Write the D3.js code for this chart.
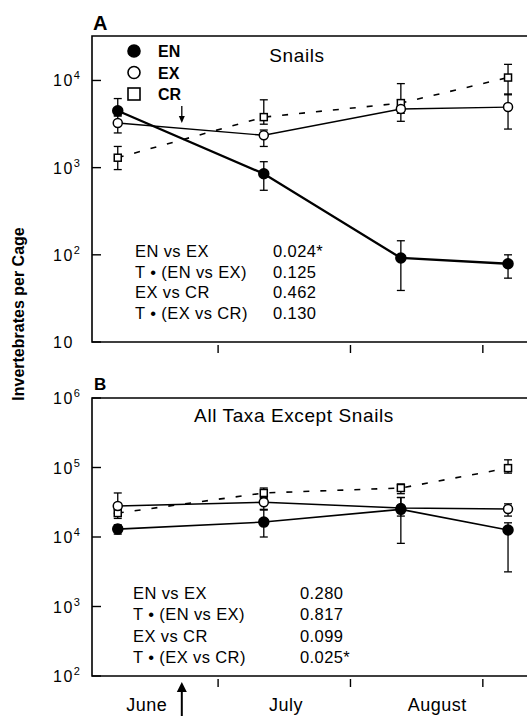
<!DOCTYPE html>
<html>
<head>
<meta charset="utf-8">
<script src="https://cdn.jsdelivr.net/npm/d3@7"></script>
<style>
body { margin: 0; background: #fff; }
svg { font-family: "Liberation Sans", Arial, sans-serif; }
.stat { font-size: 16.5px; letter-spacing: 0.4px; }
.tick-lab { font-size: 16px; letter-spacing: 1.5px; }
</style>
</head>
<body>
<svg id="chart" width="527" height="716"></svg>
<script>
// sampling dates, in days since June 1
const sampleDays = [6.5, 40.7, 72.8, 97.9];
const monthTicks = [30, 61, 92];
const monthNames = ['June', 'July', 'August'];
const monthLabelDays = [13.3, 45.9, 81.3];
const removalDay = 21.5;

// A: snails
const snailEN = [4500, 850, 92, 79];
const snailENlo = [3900, 550, 39, 54];
const snailENhi = [6200, 1170, 145, 100];
const snailEX = [3250, 2350, 4700, 4950];
const snailEXlo = [2500, 1750, 3400, 2770];
const snailEXhi = [4000, 2700, 6000, 7000];
const snailCR = [1300, 3800, 5500, 10800];
const snailCRlo = [950, 3150, 4200, 6850];
const snailCRhi = [1750, 6000, 9200, 15300];
const snailStats = [['EN vs EX', '0.024*'], ['T \u2022 (EN vs EX)', '0.125'], ['EX vs CR', '0.462'], ['T \u2022 (EX vs CR)', '0.130']];

// B: all taxa except snails
const otherEN = [13000, 16400, 25000, 12600];
const otherENlo = [11000, 10000, 8100, 3150];
const otherENhi = [15000, 25000, 37000, 16000];
const otherEX = [27900, 31600, 26100, 25300];
const otherEXlo = [22000, 24400, 20000, 20000];
const otherEXhi = [43000, 36000, 37000, 30000];
const otherCR = [22100, 43000, 50700, 98000];
const otherCRlo = [18500, 37000, 42000, 83000];
const otherCRhi = [26000, 50700, 58000, 129000];
const otherStats = [['EN vs EX', '0.280'], ['T \u2022 (EN vs EX)', '0.817'], ['EX vs CR', '0.099'], ['T \u2022 (EX vs CR)', '0.025*']];

const svg = d3.select('#chart');
const x = d3.scaleLinear().domain([0, 100]).range([90, 517]);
const left = 92, right = 540;

function series(mean, lo, hi) {
    return mean.map((v, i) => ({day: sampleDays[i], v, lo: lo[i], hi: hi[i]}));
}

function drawPanel(cfg) {
    const y = d3.scaleLog().domain(cfg.domain).range([cfg.bottom, cfg.top]);
    const g = svg.append('g');
    // frame
    g.append('path')
	.attr('d', `M ${right},${cfg.top} L ${left},${cfg.top} L ${left},${cfg.bottom} L ${right},${cfg.bottom}`)
	.attr('fill', 'none').attr('stroke', '#000').attr('stroke-width', 1.6);
    // y ticks, pointing in
    const exps = d3.range(Math.round(Math.log10(cfg.domain[0])), Math.floor(Math.log10(cfg.domain[1])) + 1);
    g.selectAll('line.ytick').data(exps).join('line')
	.attr('class', 'ytick')
	.attr('x1', left).attr('x2', left + 9)
	.attr('y1', e => y(Math.pow(10, e))).attr('y2', e => y(Math.pow(10, e)))
	.attr('stroke', '#000').attr('stroke-width', 1.4);
    const lab = g.selectAll('text.ytl').data(exps).join('text')
	.attr('class', 'ytl tick-lab')
	.attr('x', 53).attr('y', e => y(Math.pow(10, e)) + 6);
    lab.append('tspan').text('10');
    lab.filter(e => e > 1).append('tspan')
	.attr('dy', -7).style('font-size', '11px').text(e => e);
    // x ticks, pointing out
    g.selectAll('line.xtick').data(monthTicks).join('line')
	.attr('x1', d => x(d)).attr('x2', d => x(d))
	.attr('y1', cfg.bottom + 3).attr('y2', cfg.bottom + 11)
	.attr('stroke', '#000').attr('stroke-width', 1.4);
    // panel letter and title
    g.append('text').attr('x', cfg.letterX).attr('y', cfg.letterY)
	.style('font-weight', 'bold').style('font-size', cfg.letterSize)
	.text(cfg.letter);
    g.append('text').attr('x', cfg.titleX).attr('y', cfg.titleY)
	.attr('text-anchor', 'middle').style('font-size', '19px')
	.style('letter-spacing', '0.6px').text(cfg.title);

    const line = d3.line().x(d => x(d.day)).y(d => y(d.v));
    const groups = [
	{data: cfg.cr, width: 1.6, dash: '6,11', mark: 'square'},
	{data: cfg.ex, width: 1.4, dash: null, mark: 'open'},
	{data: cfg.en, width: cfg.enWidth, dash: null, mark: 'filled'}
    ];
    groups.forEach(s => {
	g.append('path').datum(s.data)
	    .attr('d', line).attr('fill', 'none')
	    .attr('stroke', '#000').attr('stroke-width', s.width)
	    .attr('stroke-dasharray', s.dash);
    });
    groups.forEach(s => {
	const eb = g.append('g');
	eb.selectAll('line.bar').data(s.data).join('line')
	    .attr('x1', d => x(d.day)).attr('x2', d => x(d.day))
	    .attr('y1', d => y(d.lo)).attr('y2', d => y(d.hi))
	    .attr('stroke', '#000').attr('stroke-width', 1.3);
	['lo', 'hi'].forEach(k => {
	    eb.selectAll('line.cap' + k).data(s.data).join('line')
		.attr('x1', d => x(d.day) - 4).attr('x2', d => x(d.day) + 4)
		.attr('y1', d => y(d[k])).attr('y2', d => y(d[k]))
		.attr('stroke', '#000').attr('stroke-width', 1.3);
	});
    });
    groups.forEach(s => {
	if (s.mark === 'square') {
	    g.selectAll(null).data(s.data).join('rect')
		.attr('x', d => x(d.day) - 3.5).attr('y', d => y(d.v) - 3.5)
		.attr('width', 7).attr('height', 7)
		.attr('fill', '#fff').attr('stroke', '#000').attr('stroke-width', 1.5);
	} else {
	    g.selectAll(null).data(s.data).join('circle')
		.attr('cx', d => x(d.day)).attr('cy', d => y(d.v))
		.attr('r', s.mark === 'filled' ? 5 : 4.5)
		.attr('fill', s.mark === 'filled' ? '#000' : '#fff')
		.attr('stroke', '#000').attr('stroke-width', 1.5);
	}
    });
    // statistics table
    const st = g.selectAll('g.stat').data(cfg.stats).join('g')
	.attr('transform', (d, i) => `translate(0, ${cfg.statY + i * cfg.statStep})`);
    st.append('text').attr('class', 'stat').attr('x', cfg.statX1).text(d => d[0]);
    st.append('text').attr('class', 'stat').attr('x', cfg.statX2).text(d => d[1]);
    return {g, y};
}

const A = drawPanel({
    domain: [10, Math.pow(10, 4.51)], top: 36, bottom: 342,
    letter: 'A', letterX: 93, letterY: 30, letterSize: '20px',
    title: 'Snails', titleX: 297, titleY: 62,
    en: series(snailEN, snailENlo, snailENhi),
    ex: series(snailEX, snailEXlo, snailEXhi),
    cr: series(snailCR, snailCRlo, snailCRhi),
    enWidth: 2.3,
    stats: snailStats, statX1: 135, statX2: 273, statY: 257, statStep: 20.7
});

const B = drawPanel({
    domain: [100, 1e6], top: 398, bottom: 676,
    letter: 'B', letterX: 94, letterY: 390, letterSize: '17px',
    title: 'All Taxa Except Snails', titleX: 294, titleY: 422,
    en: series(otherEN, otherENlo, otherENhi),
    ex: series(otherEX, otherEXlo, otherEXhi),
    cr: series(otherCR, otherCRlo, otherCRhi),
    enWidth: 1.6,
    stats: otherStats, statX1: 133, statX2: 300, statY: 599, statStep: 21.3
});

// legend
const legendItems = ['EN', 'EX', 'CR'];
const leg = svg.append('g');
legendItems.forEach((name, i) => {
    const cy = 51 + i * 21.5;
    if (name === 'CR') {
	leg.append('rect').attr('x', 128).attr('y', cy - 6).attr('width', 12).attr('height', 12)
	    .attr('fill', '#fff').attr('stroke', '#000').attr('stroke-width', 1.6);
    } else {
	leg.append('circle').attr('cx', 134).attr('cy', cy).attr('r', 6)
	    .attr('fill', name === 'EN' ? '#000' : '#fff')
	    .attr('stroke', '#000').attr('stroke-width', 1.6);
    }
    leg.append('text').attr('x', 158).attr('y', cy + 6)
	.style('font-weight', 'bold').style('font-size', '16px').text(name);
});

// removal arrows
const ax = x(removalDay);
svg.append('line').attr('x1', ax).attr('x2', ax).attr('y1', 106).attr('y2', 117)
    .attr('stroke', '#000').attr('stroke-width', 1.3);
svg.append('path').attr('d', `M ${ax - 3},${116} L ${ax + 3},${116} L ${ax},${123} Z`).attr('fill', '#000');
svg.append('line').attr('x1', ax).attr('x2', ax).attr('y1', 690).attr('y2', 716)
    .attr('stroke', '#000').attr('stroke-width', 2);
svg.append('path').attr('d', `M ${ax - 5},${692} L ${ax + 5},${692} L ${ax},${682} Z`).attr('fill', '#000');

// month labels
svg.selectAll('text.month').data(monthNames).join('text')
    .attr('class', 'month')
    .attr('x', (d, i) => x(monthLabelDays[i])).attr('y', 711)
    .attr('text-anchor', 'middle').style('font-size', '18px')
    .style('letter-spacing', '0.5px').text(d => d);

// y axis title
svg.append('text').attr('transform', 'translate(24, 314) rotate(-90)')
    .attr('text-anchor', 'middle').style('font-weight', 'bold').style('font-size', '16px')
    .text('Invertebrates per Cage');
</script>
</body>
</html>
